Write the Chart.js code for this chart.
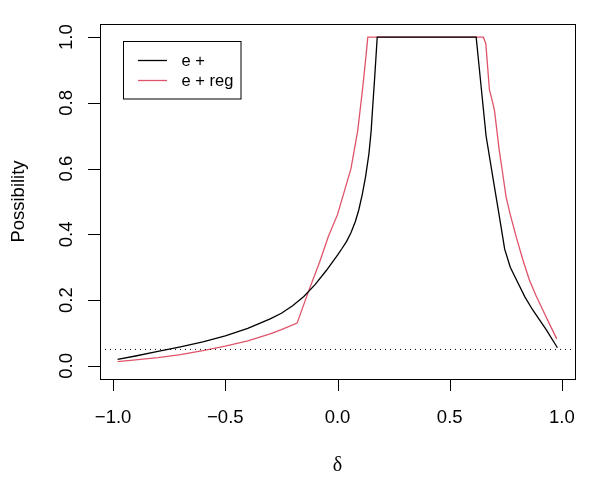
<!DOCTYPE html>
<html>
<head>
<meta charset="utf-8">
<script src="https://cdn.jsdelivr.net/npm/chart.js@4/dist/chart.umd.min.js"></script>
<style>
  html, body { margin: 0; padding: 0; background: #fff; }
  #wrap { width: 600px; height: 480px; }
</style>
</head>
<body>
<div id="wrap"><canvas id="chart" width="600" height="480"></canvas></div>
<script>
// e + (black)
const DELTA_E = [-0.98, -0.9, -0.8, -0.7, -0.6, -0.5, -0.4, -0.3, -0.25, -0.2, -0.15, -0.1, -0.05, 0.0, 0.02, 0.04, 0.06, 0.08, 0.095, 0.11, 0.125, 0.14, 0.15, 0.157, 0.165, 0.172, 0.177, 0.618, 0.64, 0.662, 0.692, 0.72, 0.745, 0.77, 0.8, 0.835, 0.87, 0.93, 0.98];
const POSS_E = [0.020, 0.030, 0.044, 0.058, 0.073, 0.091, 0.114, 0.143, 0.160, 0.183, 0.211, 0.247, 0.290, 0.337, 0.357, 0.378, 0.405, 0.440, 0.475, 0.520, 0.575, 0.645, 0.715, 0.790, 0.870, 0.945, 1.0, 1.0, 0.85, 0.70, 0.575, 0.46, 0.355, 0.30, 0.258, 0.21, 0.17, 0.11, 0.055];

// e + reg (red)
const DELTA_REG = [-0.98, -0.9, -0.8, -0.7, -0.6, -0.5, -0.4, -0.3, -0.25, -0.18, -0.13, -0.08, -0.04, 0.0, 0.03, 0.06, 0.09, 0.113, 0.128, 0.135, 0.65, 0.661, 0.677, 0.692, 0.70, 0.72, 0.736, 0.751, 0.77, 0.796, 0.825, 0.855, 0.885, 0.915, 0.945, 0.977];
const POSS_REG = [0.013, 0.018, 0.025, 0.034, 0.046, 0.060, 0.076, 0.097, 0.110, 0.130, 0.225, 0.315, 0.395, 0.46, 0.53, 0.60, 0.715, 0.85, 0.95, 1.0, 1.0, 0.98, 0.84, 0.80, 0.775, 0.66, 0.586, 0.515, 0.46, 0.393, 0.325, 0.261, 0.213, 0.170, 0.127, 0.082];

const SERIES_NAMES = ['e +', 'e + reg'];
const SERIES_COLORS = ['#000000', '#DF536B'];
const THRESHOLD = 0.05;

const X_TICKS = [-1.0, -0.5, 0.0, 0.5, 1.0];
const X_TICK_LABELS = ['\u22121.0', '\u22120.5', '0.0', '0.5', '1.0'];
const Y_TICKS = [0.0, 0.2, 0.4, 0.6, 0.8, 1.0];
const Y_TICK_LABELS = ['0.0', '0.2', '0.4', '0.6', '0.8', '1.0'];
const X_TITLE = '\u03b4';
const Y_TITLE = 'Possibility';

const X_MIN = -1.0584, X_MAX = 1.0584;
const Y_MIN = -0.04, Y_MAX = 1.04;

const FONT = '"Liberation Sans", Arial, sans-serif';

const toPoints = (xs, ys) => xs.map((x, i) => ({ x, y: ys[i] }));

// R style box, axes, titles and legend
const rFrame = {
  id: 'rFrame',
  afterDraw(chart) {
    const { ctx, chartArea: a, scales } = chart;
    const xs = scales.x, ys = scales.y;
    ctx.save();
    ctx.strokeStyle = '#000';
    ctx.fillStyle = '#000';
    ctx.lineWidth = 1;

    ctx.strokeRect(a.left + 0.5, a.top + 0.5, a.right - a.left, a.bottom - a.top);

    // x axis ticks
    ctx.beginPath();
    X_TICKS.forEach((v) => {
      const px = Math.round(xs.getPixelForValue(v)) + 0.5;
      ctx.moveTo(px, a.bottom);
      ctx.lineTo(px, a.bottom + 12);
    });
    // y axis ticks
    Y_TICKS.forEach((v) => {
      const py = Math.round(ys.getPixelForValue(v)) + 0.5;
      ctx.moveTo(a.left, py);
      ctx.lineTo(a.left - 12, py);
    });
    ctx.stroke();

    ctx.font = `18.5px ${FONT}`;
    ctx.textAlign = 'center';
    ctx.textBaseline = 'alphabetic';
    X_TICKS.forEach((v, i) => {
      ctx.fillText(X_TICK_LABELS[i], xs.getPixelForValue(v), a.bottom + 44);
    });
    Y_TICKS.forEach((v, i) => {
      ctx.save();
      ctx.translate(a.left - 28, ys.getPixelForValue(v));
      ctx.rotate(-Math.PI / 2);
      ctx.fillText(Y_TICK_LABELS[i], 0, 0);
      ctx.restore();
    });

    // axis titles
    ctx.save();
    ctx.translate(23.5, (a.top + a.bottom) / 2);
    ctx.rotate(-Math.PI / 2);
    ctx.fillText(Y_TITLE, 0, 0);
    ctx.restore();
    ctx.font = `20px "Liberation Serif", "DejaVu Serif", serif`;
    ctx.fillText(X_TITLE, (a.left + a.right) / 2, 470.5);

    // legend
    const lx = 123.5, ly = 41.5, lw = 117.5, lh = 57.5;
    ctx.strokeRect(lx, ly, lw, lh);
    ctx.font = `16.5px ${FONT}`;
    ctx.textAlign = 'left';
    ctx.textBaseline = 'middle';
    chart.data.datasets.slice(1).forEach((ds, i) => {
      const y = 60.5 + i * 20;
      ctx.strokeStyle = ds.borderColor;
      ctx.lineWidth = 1.3;
      ctx.beginPath();
      ctx.moveTo(138, y);
      ctx.lineTo(167, y);
      ctx.stroke();
      ctx.fillText(ds.label, 181.5, y + 1);
    });
    ctx.restore();
  },
};

new Chart(document.getElementById('chart'), {
  type: 'scatter',
  data: {
    datasets: [
      {
        label: 'threshold',
        data: toPoints([X_MIN, X_MAX], [THRESHOLD, THRESHOLD]),
        showLine: true,
        borderColor: '#000',
        borderWidth: 1,
        borderDash: [1, 4],
        pointRadius: 0,
      },
      {
        label: SERIES_NAMES[0],
        data: toPoints(DELTA_E, POSS_E),
        showLine: true,
        borderColor: SERIES_COLORS[0],
        borderWidth: 1.3,
        pointRadius: 0,
        tension: 0,
      },
      {
        label: SERIES_NAMES[1],
        data: toPoints(DELTA_REG, POSS_REG),
        showLine: true,
        borderColor: SERIES_COLORS[1],
        borderWidth: 1.3,
        pointRadius: 0,
        tension: 0,
      },
    ],
  },
  options: {
    responsive: false,
    animation: false,
    devicePixelRatio: 1,
    layout: { padding: { left: 100, right: 25, top: 24, bottom: 101 } },
    plugins: { legend: { display: false }, tooltip: { enabled: false } },
    scales: {
      x: { type: 'linear', min: X_MIN, max: X_MAX, display: false },
      y: { type: 'linear', min: Y_MIN, max: Y_MAX, display: false },
    },
  },
  plugins: [rFrame],
});
</script>
</body>
</html>
